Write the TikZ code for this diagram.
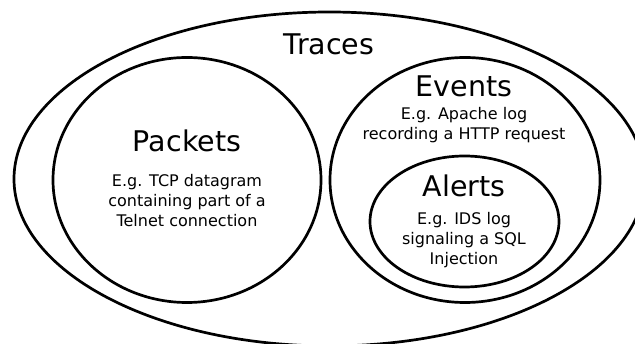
\documentclass[tikz,border=0pt]{standalone}
\usepackage{fontspec}
\setmainfont{DejaVu Sans}
\usetikzlibrary{shapes.geometric}
\begin{document}
\begin{tikzpicture}[x=1pt,y=-1pt,
  setbox/.style={ellipse, draw, line width=2.7pt, inner sep=0pt},
  titletext/.style={anchor=base, inner sep=0pt, font=\fontsize{28.5}{34}\selectfont},
  desctext/.style={anchor=base, inner sep=0pt, align=center, font=\fontsize{16}{19.7}\selectfont}]
\useasboundingbox (0,0) rectangle (635,344);
\node[setbox, minimum width=630.8pt, minimum height=334pt] (traces) at (329.4,179) {};
\node[setbox, minimum width=268pt, minimum height=245pt] (packets) at (187,180) {};
\node[setbox, minimum width=270pt, minimum height=245pt] (events) at (465,180) {};
\node[setbox, minimum width=189pt, minimum height=131pt] (alerts) at (464.5,221.5) {};
\node[titletext] (tracesT) at (329,55) {Traces};
\node[titletext] (packetsT) at (187,152) {Packets};
\node[desctext] (packetsD) at (187,226.4) {E.g. TCP datagram\\containing part of a\\Telnet connection};
\node[titletext] (eventsT) at (464,97) {Events};
\node[desctext] (eventsD) at (464,139.7) {E.g. Apache log\\recording a HTTP request};
\node[titletext] (alertsT) at (464,197) {Alerts};
\node[desctext] (alertsD) at (464,264.4) {E.g. IDS log\\signaling a SQL\\Injection};
\end{tikzpicture}
\end{document}
